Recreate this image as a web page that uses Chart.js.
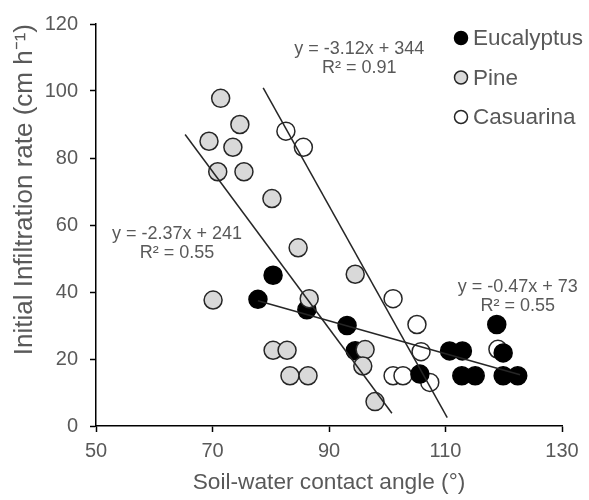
<!DOCTYPE html>
<html>
<head>
<meta charset="utf-8">
<script src="https://cdn.jsdelivr.net/npm/chart.js@4.4.0/dist/chart.umd.min.js"></script>
<style>
  body { margin: 0; background: #fff; }
  canvas { display: block; }
</style>
</head>
<body>
<canvas id="myChart" width="589" height="500"></canvas>
<script>
// values
let seriesNames = ['Eucalyptus', 'Pine', 'Casuarina'];

let eucalyptusX = [80.4, 77.8, 86.2, 93.1, 94.5, 105.6, 110.7, 112.9, 112.8, 115.1, 118.8, 119.9, 119.9, 122.4];
let eucalyptusY = [45, 37.8, 34.7, 30, 22.5, 15.5, 22.4, 22.4, 15, 15, 30.3, 21.8, 15, 15];

let pineX = [71.4, 69.4, 74.7, 73.5, 70.9, 75.4, 80.2, 84.7, 70.1, 86.6, 94.5, 80.4, 82.8, 83.3, 86.4, 96.2, 95.8, 97.9];
let pineY = [97.8, 85, 90, 83.2, 75.9, 75.9, 67.9, 53.2, 37.6, 38, 45.3, 22.6, 22.6, 15, 15, 22.8, 17.9, 7.3];

let casuarinaX = [82.6, 85.6, 101, 105.1, 105.8, 101, 102.7, 107.3, 119];
let casuarinaY = [88, 83.2, 38, 30.3, 22.2, 15, 15, 13, 22.9];

// trendline ends
let eucLineX = [77.8, 122.8];
let eucLineY = [37.4, 15.3];
let pineLineX = [65.3, 100.8];
let pineLineY = [87, 3.8];
let casLineX = [78.7, 110.3];
let casLineY = [100.9, 2.5];

let trendEquations = ['y = -0.47x + 73', 'y = -2.37x + 241', 'y = -3.12x + 344'];
let trendR2 = ['R² = 0.55', 'R² = 0.55', 'R² = 0.91'];

let xTicks = [50, 70, 90, 110, 130];
let yTicks = [0, 20, 40, 60, 80, 100, 120];

let textColor = '#595959';
let fontFamily = '"Liberation Sans", Arial, sans-serif';

function toPoints(xs, ys) {
  return xs.map((x, i) => ({ x: x, y: ys[i] }));
}

function lineSet(xs, ys) {
  return {
    data: toPoints(xs, ys),
    showLine: true,
    pointRadius: 0,
    borderColor: '#262626',
    borderWidth: 1.5,
    order: 0
  };
}

// where the equation boxes sit (data units of their centre)
let labelAnchors = [[122.4, 41.5], [63.9, 57.4], [95.2, 112.6]];

let trendLabelPlugin = {
  id: 'trendLabels',
  afterDatasetsDraw(chart) {
    let ctx = chart.ctx;
    let xs = chart.scales.x;
    let ys = chart.scales.y;
    ctx.save();
    ctx.font = '18px ' + fontFamily;
    ctx.fillStyle = textColor;
    ctx.textAlign = 'center';
    ctx.textBaseline = 'middle';
    labelAnchors.forEach((a, i) => {
      let px = xs.getPixelForValue(a[0]);
      let py = ys.getPixelForValue(a[1]);
      ctx.fillText(trendEquations[i], px, py);
      ctx.fillText(trendR2[i], px, py + 19);
    });
    ctx.restore();
  }
};

let legendPlugin = {
  id: 'cornerLegend',
  afterDraw(chart) {
    let ctx = chart.ctx;
    ctx.save();
    ctx.font = '22.5px ' + fontFamily;
    ctx.textBaseline = 'middle';
    ctx.textAlign = 'left';
    seriesNames.forEach((name, i) => {
      let ds = chart.data.datasets[i];
      let y = 38 + i * 39.5;
      ctx.beginPath();
      ctx.arc(461, y, 6.5, 0, Math.PI * 2);
      ctx.fillStyle = ds.backgroundColor;
      ctx.fill();
      ctx.lineWidth = 1.5;
      ctx.strokeStyle = ds.borderColor;
      ctx.stroke();
      ctx.fillStyle = textColor;
      ctx.fillText(name, 473, y + 1);
    });
    ctx.restore();
  }
};

let ctx = document.getElementById('myChart').getContext('2d');

let myChart = new Chart(ctx, {
  type: 'scatter',
  data: {
    datasets: [
      {
        label: seriesNames[0],
        data: toPoints(eucalyptusX, eucalyptusY),
        backgroundColor: '#000000',
        borderColor: '#000000',
        borderWidth: 1.5,
        pointRadius: 9,
        order: 2
      },
      {
        label: seriesNames[1],
        data: toPoints(pineX, pineY),
        backgroundColor: '#d9d9d9',
        borderColor: '#262626',
        borderWidth: 1.5,
        pointRadius: 9,
        order: 1
      },
      {
        label: seriesNames[2],
        data: toPoints(casuarinaX, casuarinaY),
        backgroundColor: '#ffffff',
        borderColor: '#262626',
        borderWidth: 1.5,
        pointRadius: 9,
        order: 3
      },
      lineSet(eucLineX, eucLineY),
      lineSet(pineLineX, pineLineY),
      lineSet(casLineX, casLineY)
    ]
  },
  options: {
    responsive: false,
    animation: false,
    layout: { padding: { left: 0, right: 27, top: 18, bottom: 0 } },
    plugins: {
      legend: { display: false },
      tooltip: { enabled: false }
    },
    scales: {
      x: {
        type: 'linear',
        min: 50,
        max: 130,
        afterBuildTicks: (scale) => { scale.ticks = xTicks.map(v => ({ value: v })); },
        afterFit: (scale) => { scale.height = 74; },
        ticks: {
          color: textColor,
          font: { family: fontFamily, size: 20 },
          padding: 7
        },
        grid: { drawOnChartArea: false, drawTicks: true, tickLength: 6, tickColor: '#000', tickWidth: 1.5 },
        border: { display: true, color: '#000', width: 1.5 },
        title: {
          display: true,
          text: 'Soil-water contact angle (°)',
          color: textColor,
          font: { family: fontFamily, size: 22.7 },
          padding: { top: 0, bottom: 4 }
        }
      },
      y: {
        type: 'linear',
        min: 0,
        max: 120,
        afterBuildTicks: (scale) => { scale.ticks = yTicks.map(v => ({ value: v })); },
        afterFit: (scale) => { scale.width = 96; },
        ticks: {
          color: textColor,
          font: { family: fontFamily, size: 20 },
          padding: 12
        },
        grid: { drawOnChartArea: false, drawTicks: true, tickLength: 6, tickColor: '#000', tickWidth: 1.5 },
        border: { display: true, color: '#000', width: 1.5 },
        title: {
          display: true,
          text: 'Initial Infiltration rate (cm h⁻¹)',
          color: textColor,
          align: 'end',
          font: { family: fontFamily, size: 26 },
          padding: { top: 9, bottom: 0 }
        }
      }
    }
  },
  plugins: [trendLabelPlugin, legendPlugin]
});
</script>
</body>
</html>
